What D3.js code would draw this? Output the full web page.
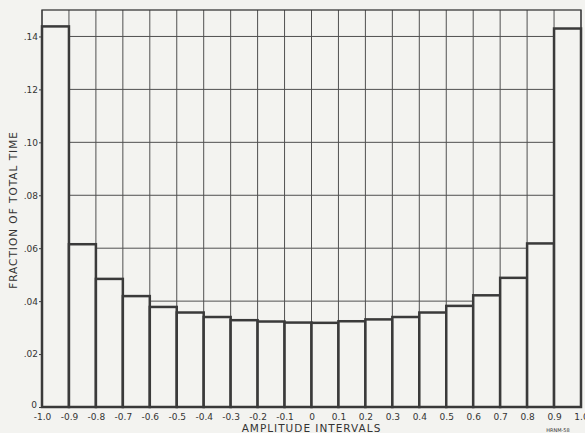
<!DOCTYPE html>
<html>
<head>
<meta charset="utf-8">
<script src="https://cdn.jsdelivr.net/npm/d3@7"></script>
<style>
  html, body { margin: 0; padding: 0; background: #f3f3f0; }
  svg { display: block; }
  text { font-family: "DejaVu Sans", "Liberation Sans", sans-serif; fill: #333; }
</style>
</head>
<body>
<svg id="chart" width="585" height="433"></svg>
<script>
// ---- data ----
const intervalStarts = [-1.0, -0.9, -0.8, -0.7, -0.6, -0.5, -0.4, -0.3, -0.2, -0.1,
                        0.0, 0.1, 0.2, 0.3, 0.4, 0.5, 0.6, 0.7, 0.8, 0.9];
const fractionOfTime = [0.1438, 0.0615, 0.0484, 0.0419, 0.0378, 0.0357, 0.0340, 0.0328, 0.0323, 0.0319,
                        0.0318, 0.0324, 0.0331, 0.0340, 0.0357, 0.0382, 0.0422, 0.0488, 0.0618, 0.1430];
const xTickValues = [-1.0, -0.9, -0.8, -0.7, -0.6, -0.5, -0.4, -0.3, -0.2, -0.1, 0,
                     0.1, 0.2, 0.3, 0.4, 0.5, 0.6, 0.7, 0.8, 0.9, 1.0];
const xTickLabels = ["-1.0", "-0.9", "-0.8", "-0.7", "-0.6", "-0.5", "-0.4", "-0.3", "-0.2", "-0.1", "0",
                     "0.1", "0.2", "0.3", "0.4", "0.5", "0.6", "0.7", "0.8", "0.9", "1.0"];
const yTickValues = [0, 0.02, 0.04, 0.06, 0.08, 0.10, 0.12, 0.14];
const yTickLabels = ["0", ".02", ".04", ".06", ".08", ".10", ".12", ".14"];
const binWidth = 0.1;

// ---- layout ----
const svg = d3.select("#chart");
const mLeft = 42, mRight = 581, mTop = 10, mBottom = 407;
const x = d3.scaleLinear().domain([-1, 1]).range([mLeft, mRight]);
const y = d3.scaleLinear().domain([0, 0.15]).range([mBottom, mTop]);

const lineCol = "#3a3a3a";

// gridlines
const g = svg.append("g");
g.selectAll("line.v").data(xTickValues).join("line")
  .attr("x1", d => x(d)).attr("x2", d => x(d))
  .attr("y1", y(0.15)).attr("y2", y(0))
  .attr("stroke", "#505050").attr("stroke-width", 1);
g.selectAll("line.h").data(yTickValues.filter(v => v > 0)).join("line")
  .attr("x1", x(-1)).attr("x2", x(1))
  .attr("y1", d => y(d)).attr("y2", d => y(d))
  .attr("stroke", "#505050").attr("stroke-width", 1);

// frame
svg.append("rect")
  .attr("x", x(-1)).attr("y", y(0.15))
  .attr("width", x(1) - x(-1)).attr("height", y(0) - y(0.15))
  .attr("fill", "none").attr("stroke", lineCol).attr("stroke-width", 1.3);

// bars
svg.append("g").selectAll("rect").data(intervalStarts).join("rect")
  .attr("x", d => x(d))
  .attr("width", d => x(d + binWidth) - x(d))
  .attr("y", (d, i) => y(fractionOfTime[i]))
  .attr("height", (d, i) => y(0) - y(fractionOfTime[i]))
  .attr("fill", "#f3f3f0")
  .attr("stroke", lineCol)
  .attr("stroke-width", 2.5);

// baseline
svg.append("line")
  .attr("x1", x(-1)).attr("x2", x(1)).attr("y1", y(0)).attr("y2", y(0))
  .attr("stroke", lineCol).attr("stroke-width", 1.5);

// y axis
const yAxis = d3.axisLeft(y).tickValues(yTickValues)
  .tickFormat((d, i) => yTickLabels[i]).tickSize(3).tickPadding(1);
const ya = svg.append("g").attr("transform", `translate(${mLeft},0)`).call(yAxis);
ya.select(".domain").remove();
ya.selectAll("line").attr("stroke", lineCol);
ya.selectAll("text").attr("font-size", 9).attr("fill", "#333")
  .style("font-family", '"DejaVu Sans", sans-serif');
ya.selectAll(".tick").filter(d => d === 0).select("text").attr("dy", "0.1em").attr("x", -5);

// x axis
const xAxis = d3.axisBottom(x).tickValues(xTickValues)
  .tickFormat((d, i) => xTickLabels[i]).tickSize(0).tickPadding(7);
const xa = svg.append("g").attr("transform", `translate(0,${mBottom})`).call(xAxis);
xa.select(".domain").remove();
xa.selectAll("text").attr("font-size", 9).attr("fill", "#333")
  .style("font-family", '"DejaVu Sans", sans-serif');

// titles
svg.append("text")
  .attr("x", (mLeft + mRight) / 2).attr("y", 432)
  .attr("text-anchor", "middle")
  .attr("font-size", 10.5).attr("letter-spacing", 1)
  .text("AMPLITUDE  INTERVALS");

svg.append("text")
  .attr("transform", `translate(17,210) rotate(-90)`)
  .attr("text-anchor", "middle")
  .attr("font-size", 10.5).attr("letter-spacing", 1)
  .text("FRACTION  OF  TOTAL  TIME");

svg.append("text")
  .attr("x", 558).attr("y", 432)
  .attr("text-anchor", "middle")
  .attr("font-size", 5).attr("fill", "#555")
  .text("HRNM-58");
</script>
</body>
</html>
